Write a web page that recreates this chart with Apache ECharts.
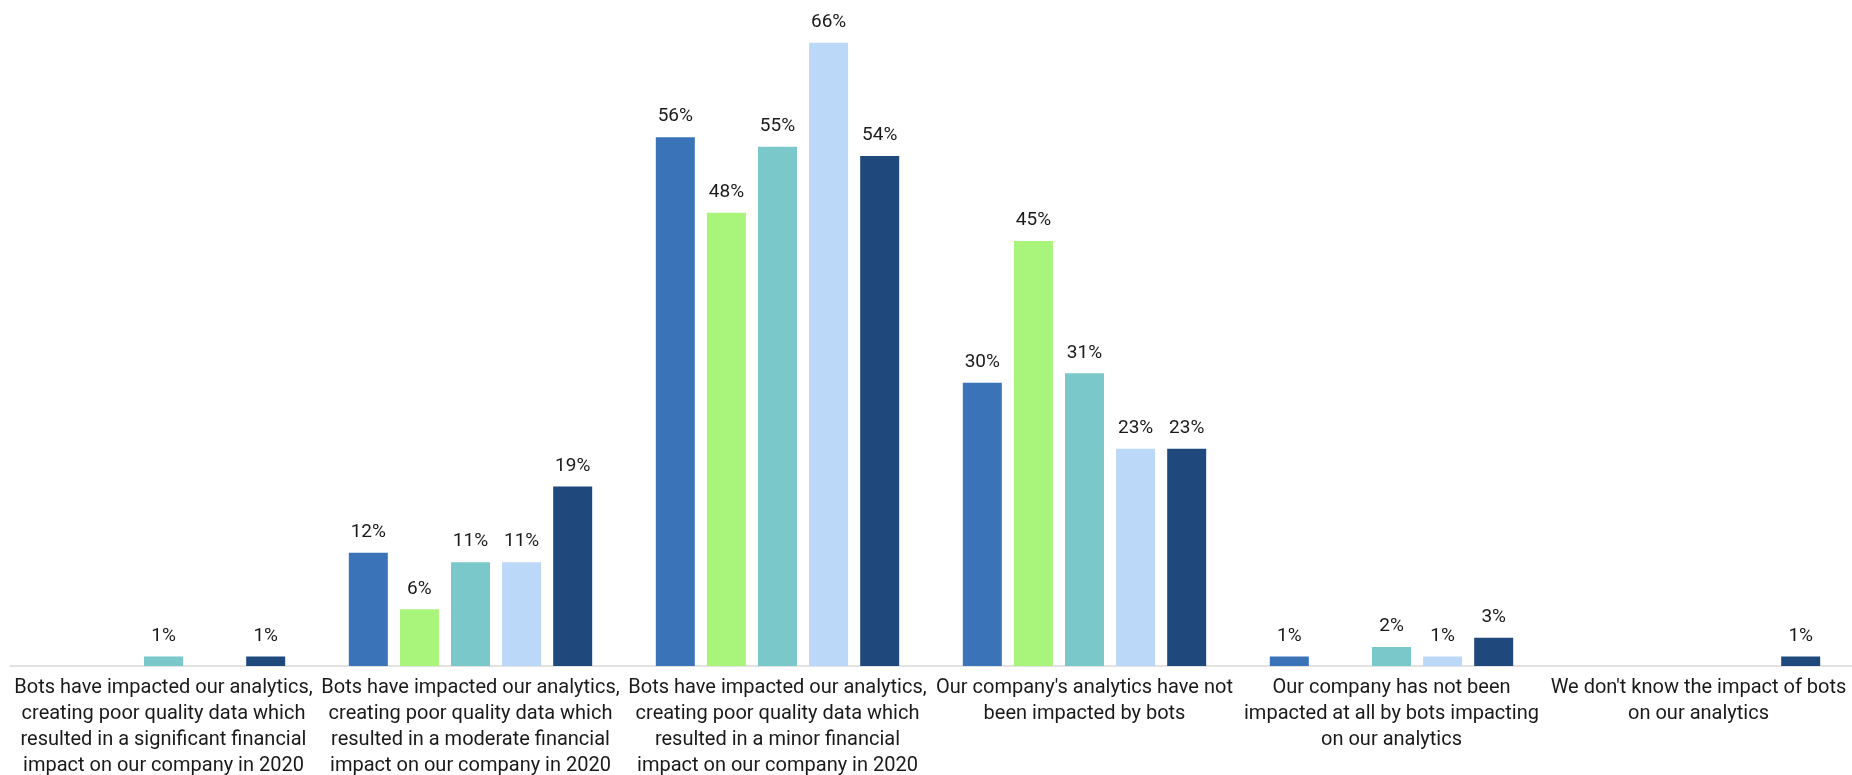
<!DOCTYPE html>
<html>
<head>
<meta charset="utf-8">
<script src="https://cdn.jsdelivr.net/npm/echarts@6/dist/echarts.min.js"></script>
<style>
  html, body { margin: 0; padding: 0; background: #fff; }
  #chart { width: 1852px; height: 775px; }
</style>
</head>
<body>
<div id="chart"></div>
<script>
var categories = [
    'Bots have impacted our analytics,\ncreating poor quality data which\nresulted in a significant financial\nimpact on our company in 2020',
    'Bots have impacted our analytics,\ncreating poor quality data which\nresulted in a moderate financial\nimpact on our company in 2020',
    'Bots have impacted our analytics,\ncreating poor quality data which\nresulted in a minor financial\nimpact on our company in 2020',
    'Our company\'s analytics have not\nbeen impacted by bots',
    'Our company has not been\nimpacted at all by bots impacting\non our analytics',
    'We don\'t know the impact of bots\non our analytics'
];

// five survey groups, no legend shown in the picture
var s1 = [null, 12, 56, 30, 1, null];
var s2 = [null, 6, 48, 45, null, null];
var s3 = [1, 11, 55, 31, 2, null];
var s4 = [null, 11, 66, 23, 1, null];
var s5 = [1, 19, 54, 23, 3, 1];

var colors = ['#3B73B9', '#A9F47A', '#7BC8CA', '#BCD8F8', '#1F497D'];

var chart = echarts.init(document.getElementById('chart'));

function bar(data, i) {
    return {
        type: 'bar',
        data: data,
        barWidth: 39,
        barGap: '31%',
        itemStyle: { color: colors[i] },
        label: {
            show: true,
            position: 'top',
            distance: 11,
            formatter: '{c}%',
            color: '#1a1a1a',
            fontSize: 19,
            fontFamily: 'Roboto'
        }
    };
}

var option = {
    animation: false,
    grid: { left: 10, right: 0, top: 5, bottom: 109, containLabel: false, outerBoundsMode: 'none' },
    xAxis: {
        type: 'category',
        data: categories,
        axisLine: { lineStyle: { color: '#D9D9D9', width: 1.5 } },
        axisTick: { show: false },
        axisLabel: {
            interval: 0,
            margin: 9,
            color: '#1a1a1a',
            fontSize: 20,
            lineHeight: 26,
            fontFamily: 'Roboto'
        }
    },
    yAxis: {
        type: 'value',
        min: 0,
        max: 70,
        show: false,
        splitLine: { show: false }
    },
    series: [bar(s1, 0), bar(s2, 1), bar(s3, 2), bar(s4, 3), bar(s5, 4)]
};

chart.setOption(option);
</script>
</body>
</html>
